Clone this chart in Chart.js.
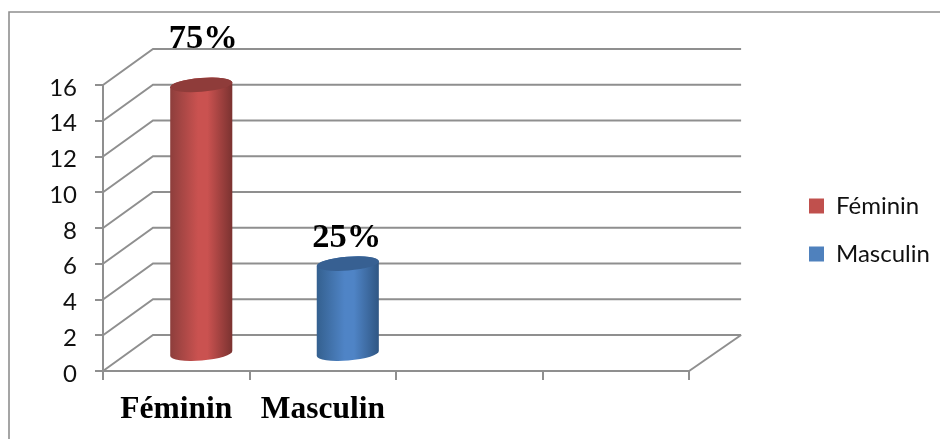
<!DOCTYPE html>
<html>
<head>
<meta charset="utf-8">
<style>
  html, body { margin: 0; padding: 0; background: #fff; }
  #wrap { width: 940px; height: 439px; }
</style>
<script src="https://cdn.jsdelivr.net/npm/chart.js@4"></script>
</head>
<body>
<div id="wrap"><canvas id="chart" width="940" height="439"></canvas></div>
<script>
// Data
const categories = ['Féminin', 'Masculin', '', ''];
const femininValues = [15, null, null, null];
const masculinValues = [null, 5, null, null];
const pctLabels = ['75%', '25%'];

const gridColor = '#8f8f8f';
const depthX = 50;
const depthY = 36;

const shades = [
  { edgeL: '#8d3e3c', mid: '#ca5250', edgeR: '#7a3230', cap: '#8f3c3a' },
  { edgeL: '#34608f', mid: '#4f84c6', edgeR: '#2f5683', cap: '#376092' },
];

// 3D walls behind the columns, hung on the real y scale
const drawWalls = (chart) => {
  const { ctx, scales: { x, y } } = chart;
  ctx.save();
  ctx.strokeStyle = gridColor;
  ctx.lineWidth = 2;
  y.ticks.forEach((t) => {
    const py = y.getPixelForValue(t.value);
    ctx.beginPath();
    ctx.moveTo(x.left, py);
    ctx.lineTo(x.left + depthX, py - depthY);
    ctx.lineTo(x.right + depthX + 2, py - depthY);
    ctx.stroke();
  });
  const py0 = y.getPixelForValue(0);
  ctx.beginPath();
  ctx.moveTo(x.right, py0);
  ctx.lineTo(x.right + depthX + 2, py0 - depthY);
  ctx.stroke();
  ctx.restore();
};

const drawCylinder = (ctx, bar, shade) => {
  const rx = bar.width / 2;
  const ry = 7;
  const tilt = -0.08;
  const cx = bar.x + depthX / 2;
  const top = bar.y - depthY / 2;
  const bottom = bar.base - depthY / 2 + 1.5;
  const dx = rx * Math.cos(tilt);
  const dy = rx * Math.sin(tilt);

  const grad = ctx.createLinearGradient(cx - rx, 0, cx + rx, 0);
  grad.addColorStop(0, shade.edgeL);
  grad.addColorStop(0.45, shade.mid);
  grad.addColorStop(0.6, shade.mid);
  grad.addColorStop(1, shade.edgeR);

  ctx.save();
  ctx.fillStyle = grad;
  ctx.beginPath();
  ctx.moveTo(cx - dx, top - dy);
  ctx.lineTo(cx - dx, bottom - dy);
  ctx.ellipse(cx, bottom, rx, ry, tilt, Math.PI, 0, true);
  ctx.lineTo(cx + dx, top + dy);
  ctx.ellipse(cx, top, rx, ry, tilt, 0, Math.PI, true);
  ctx.closePath();
  ctx.fill();

  ctx.fillStyle = shade.cap;
  ctx.beginPath();
  ctx.ellipse(cx, top, rx, ry, tilt, 0, Math.PI * 2);
  ctx.fill();
  ctx.restore();
};

const cylinder3d = {
  id: 'cylinder3d',
  beforeDraw(chart) {
    // outer frame, cut by the page edge on the right and bottom
    const { ctx, width, height } = chart;
    ctx.save();
    ctx.strokeStyle = gridColor;
    ctx.lineWidth = 1.6;
    ctx.beginPath();
    ctx.moveTo(9, height);
    ctx.lineTo(9, 12);
    ctx.lineTo(width, 12);
    ctx.stroke();
    ctx.restore();
  },
  afterLayout(chart) {
    // push the legend over to where the original sits
    const lg = chart.legend;
    const w = lg.width;
    const h = lg.height;
    lg.left = 809 - lg.options.labels.padding;
    lg.right = lg.left + w;
    lg.top = 53;
    lg.bottom = lg.top + h;
  },
  beforeDatasetsDraw(chart) {
    const { ctx } = chart;
    drawWalls(chart);
    chart.data.datasets.forEach((ds, i) => {
      chart.getDatasetMeta(i).data.forEach((bar, j) => {
        if (ds.data[j] === null) return;
        drawCylinder(ctx, bar, shades[i]);
        ctx.save();
        ctx.font = 'bold 34.5px "Liberation Serif"';
        ctx.fillStyle = '#000';
        ctx.textAlign = 'center';
        ctx.textBaseline = 'alphabetic';
        ctx.fillText(pctLabels[i], bar.x + depthX / 2 + 2 - (i === 0 ? 0 : 3), bar.y - depthY / 2 - (i === 0 ? 37 : 17));
        ctx.restore();
      });
    });
    return false; // columns are drawn above, not as flat bars
  },
};

new Chart(document.getElementById('chart'), {
  type: 'bar',
  plugins: [cylinder3d],
  data: {
    labels: categories,
    datasets: [
      { label: 'Féminin', data: femininValues, backgroundColor: '#c0504d', borderWidth: 0 },
      { label: 'Masculin', data: masculinValues, backgroundColor: '#4f81bd', borderWidth: 0 },
    ],
  },
  options: {
    responsive: false,
    animation: false,
    layout: { padding: { top: 85, left: 0, bottom: 0, right: 96 } },
    datasets: { bar: { categoryPercentage: 1, barPercentage: 0.425 } },
    plugins: {
      tooltip: { enabled: false },
      legend: {
        position: 'right',
        labels: {
          boxWidth: 15,
          boxHeight: 15,
          padding: 24,
          color: '#111',
          font: { family: 'Lato', size: 24 },
        },
      },
    },
    scales: {
      x: {
        stacked: true,
        border: { color: gridColor, width: 2 },
        grid: { drawOnChartArea: false, color: gridColor, lineWidth: 2, tickLength: 9 },
        ticks: {
          padding: 11,
          color: '#000',
          maxRotation: 0,
          autoSkip: false,
          font: { family: '"Liberation Serif"', weight: 'bold', size: 31.5 },
        },
        afterFit(scale) { scale.height = 68; },
      },
      y: {
        stacked: true,
        min: 0,
        max: 16,
        border: { color: gridColor, width: 2 },
        grid: { drawOnChartArea: false, color: gridColor, lineWidth: 2, tickLength: 8 },
        ticks: {
          stepSize: 2,
          padding: 18,
          labelOffset: 3,
          color: '#111',
          font: { family: 'Lato', size: 24 },
        },
        afterFit(scale) { scale.width = 103; },
      },
    },
  },
});
</script>
</body>
</html>
